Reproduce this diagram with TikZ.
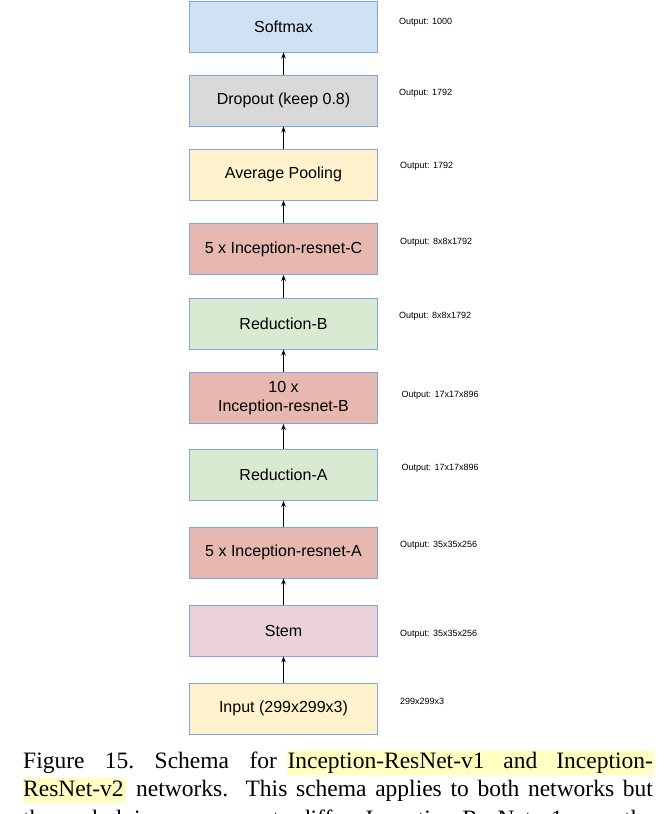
\documentclass[tikz,border=0pt]{standalone}
\usepackage{fontspec}
\setmainfont{Liberation Serif}
\newfontfamily\boxfont{Liberation Sans}
\usetikzlibrary{arrows.meta}
\definecolor{bordblue}{HTML}{7EA6E6}
\definecolor{cblue}{HTML}{CFE2F3}
\definecolor{cgray}{HTML}{D9D9D9}
\definecolor{cyellow}{HTML}{FFF2CC}
\definecolor{cred}{HTML}{E6B8AF}
\definecolor{cgreen}{HTML}{D9EAD3}
\definecolor{cpink}{HTML}{EAD1DC}
\definecolor{hlyellow}{HTML}{FFFFC2}
\begin{document}
\begin{tikzpicture}[x=1pt,y=-1pt,
  layer/.style={draw=bordblue, line width=0.9pt, minimum width=188pt, minimum height=51pt,
    inner sep=0pt, align=center, font=\boxfont\fontsize{16}{18.5}\selectfont},
  outlbl/.style={anchor=west, inner sep=0pt, font=\boxfont\fontsize{9}{11}\selectfont},
  flow/.style={line width=0.9pt, -{Stealth[length=6pt,width=4.5pt]}},
  capline/.style={anchor=base west, inner sep=0pt, font=\fontsize{23.5}{28}\selectfont}]
\useasboundingbox (0,0) rectangle (667,814);
\clip (0,0) rectangle (667,814);
% boxes
\node[layer, fill=cblue]   (soft) at (283.5,26.5)  {Softmax};
\node[layer, fill=cgray]   (drop) at (283.5,100.5) {Dropout (keep 0.8)};
\node[layer, fill=cyellow] (avg)  at (283.5,174.5) {Average Pooling};
\node[layer, fill=cred]    (incC) at (283.5,249)   {5 x Inception-resnet-C};
\node[layer, fill=cgreen]  (redB) at (283.5,323.5) {Reduction-B};
\node[layer, fill=cred]    (incB) at (283.5,398)   {10 x\\Inception-resnet-B};
\node[layer, fill=cgreen]  (redA) at (283.5,475)   {Reduction-A};
\node[layer, fill=cred]    (incA) at (283.5,552.5) {5 x Inception-resnet-A};
\node[layer, fill=cpink]   (stem) at (283.5,630.5) {Stem};
\node[layer, fill=cyellow] (inp)  at (283.5,708.5) {Input (299x299x3)};
% arrows
\draw[flow] (drop) -- (soft);
\draw[flow] (avg) -- (drop);
\draw[flow] (incC) -- (avg);
\draw[flow] (redB) -- (incC);
\draw[flow] (incB) -- (redB);
\draw[flow] (redA) -- (incB);
\draw[flow] (incA) -- (redA);
\draw[flow] (stem) -- (incA);
\draw[flow] (inp) -- (stem);
% output labels
\node[outlbl] (o1)  at (399,22.7)  {Output: 1000};
\node[outlbl] (o2)  at (399,93.3)  {Output: 1792};
\node[outlbl] (o3)  at (400,166.7) {Output: 1792};
\node[outlbl] (o4)  at (400,242.7) {Output: 8x8x1792};
\node[outlbl] (o5)  at (399,316.7) {Output: 8x8x1792};
\node[outlbl] (o6)  at (401.5,395.7) {Output: 17x17x896};
\node[outlbl] (o7)  at (401.5,468.3) {Output: 17x17x896};
\node[outlbl] (o8)  at (400,545.7) {Output: 35x35x256};
\node[outlbl] (o9)  at (400,634.7) {Output: 35x35x256};
\node[outlbl] (o10) at (400,701.7) {299x299x3};
% caption highlights
\fill[hlyellow] (286.7,750) rectangle (653.7,775);
\fill[hlyellow] (23,778) rectangle (126,803);
% caption
\node[capline] (cap1a) at (23,768.7) {\frenchspacing\makebox[253.7pt][s]{Figure 15. Schema for}};
\node[capline] (cap1b) at (287.3,768.7) {\makebox[365.4pt][s]{Inception-ResNet-v1 and Inception-}};
\node[capline] (cap2a) at (23,796.5) {ResNet-v2};
\node[capline] (cap2b) at (136,796.5) {\makebox[516.7pt][s]{networks.\ \ This schema applies to both networks but}};
\node[capline] (cap3) at (23,826.5) {\frenchspacing\makebox[629.7pt][s]{the underlying components differ. Inception-ResNet-v1 uses the}};
\end{tikzpicture}
\end{document}
